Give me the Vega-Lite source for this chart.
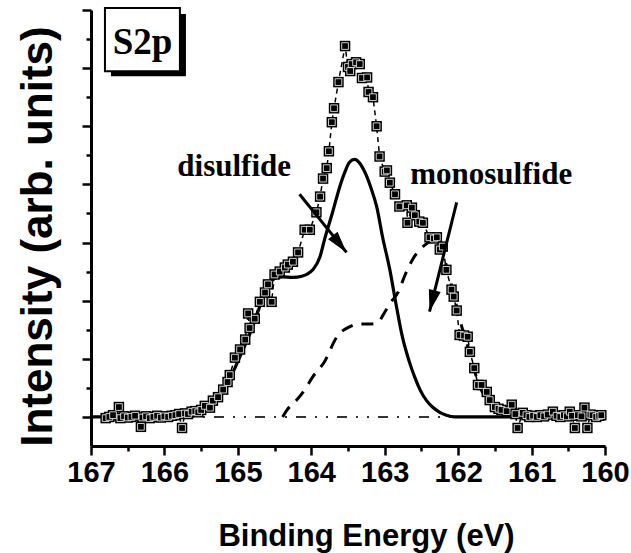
{
  "$schema": "https://vega.github.io/schema/vega-lite/v6.json",
  "width": 514,
  "height": 436,
  "autosize": {"type": "none"},
  "padding": {"left": 91, "top": 10, "right": 26, "bottom": 107},
  "background": "white",
  "config": {"view": {"stroke": null}, "axis": {"grid": false, "labelFontWeight": 700, "labelFont": "Liberation Sans"}},
  "datasets": {
    "points": [
      {"E":166.80,"I":-0.02},{"E":166.75,"I":0.00},{"E":166.70,"I":0.03},{"E":166.62,"I":0.17},{"E":166.60,"I":-0.02},
      {"E":166.55,"I":0.01},{"E":166.50,"I":-0.01},{"E":166.45,"I":0.00},{"E":166.40,"I":0.02},{"E":166.32,"I":-0.17},
      {"E":166.30,"I":-0.01},{"E":166.25,"I":0.01},{"E":166.20,"I":-0.02},{"E":166.15,"I":0.00},{"E":166.10,"I":0.02},
      {"E":166.05,"I":-0.01},{"E":166.00,"I":0.01},{"E":165.95,"I":0.00},{"E":165.90,"I":0.02},{"E":165.85,"I":0.03},
      {"E":165.80,"I":0.05},{"E":165.76,"I":-0.19},{"E":165.72,"I":0.06},{"E":165.68,"I":0.05},{"E":165.63,"I":0.09},
      {"E":165.58,"I":0.10},{"E":165.54,"I":0.08},{"E":165.50,"I":0.12},{"E":165.45,"I":0.19},{"E":165.38,"I":0.16},
      {"E":165.34,"I":0.28},{"E":165.27,"I":0.34},{"E":165.20,"I":0.47},{"E":165.14,"I":0.60},{"E":165.11,"I":0.72},
      {"E":165.04,"I":1.02},{"E":164.97,"I":1.16},{"E":164.90,"I":1.33},{"E":164.86,"I":1.78},{"E":164.84,"I":1.53},
      {"E":164.77,"I":1.69},{"E":164.70,"I":1.98},{"E":164.63,"I":2.14},{"E":164.59,"I":2.28},{"E":164.54,"I":1.98},
      {"E":164.50,"I":2.45},{"E":164.43,"I":2.50},{"E":164.36,"I":2.57},{"E":164.32,"I":2.62},{"E":164.25,"I":2.67},
      {"E":164.18,"I":2.83},{"E":164.09,"I":3.22},{"E":164.02,"I":3.22},{"E":163.93,"I":3.52},{"E":163.88,"I":3.79},
      {"E":163.84,"I":4.10},{"E":163.79,"I":4.28},{"E":163.76,"I":4.57},{"E":163.72,"I":5.07},{"E":163.69,"I":5.31},
      {"E":163.63,"I":5.76},{"E":163.54,"I":6.38},{"E":163.50,"I":6.02},{"E":163.47,"I":5.95},{"E":163.45,"I":6.07},
      {"E":163.39,"I":6.10},{"E":163.34,"I":6.07},{"E":163.31,"I":5.83},{"E":163.24,"I":5.84},{"E":163.22,"I":5.59},
      {"E":163.16,"I":5.50},{"E":163.11,"I":5.00},{"E":163.07,"I":4.48},{"E":163.00,"I":4.22},{"E":162.97,"I":4.24},
      {"E":162.93,"I":4.03},{"E":162.86,"I":3.83},{"E":162.80,"I":3.62},{"E":162.70,"I":3.64},{"E":162.69,"I":3.34},
      {"E":162.63,"I":3.60},{"E":162.59,"I":3.47},{"E":162.53,"I":3.36},{"E":162.48,"I":3.34},{"E":162.39,"I":3.09},
      {"E":162.33,"I":3.07},{"E":162.29,"I":3.09},{"E":162.25,"I":2.88},{"E":162.21,"I":2.93},{"E":162.16,"I":2.53},
      {"E":162.09,"I":2.19},{"E":162.06,"I":2.07},{"E":162.02,"I":1.83},{"E":161.98,"I":1.41},{"E":161.92,"I":1.40},
      {"E":161.87,"I":1.38},{"E":161.84,"I":1.12},{"E":161.78,"I":0.84},{"E":161.73,"I":0.55},{"E":161.68,"I":0.55},
      {"E":161.61,"I":0.43},{"E":161.57,"I":0.29},{"E":161.50,"I":0.17},{"E":161.45,"I":0.14},{"E":161.41,"I":0.12},
      {"E":161.34,"I":0.10},{"E":161.27,"I":0.21},{"E":161.22,"I":0.05},{"E":161.19,"I":-0.19},{"E":161.12,"I":0.07},
      {"E":161.07,"I":0.03},{"E":161.03,"I":0.00},{"E":160.98,"I":0.02},{"E":160.93,"I":0.00},{"E":160.88,"I":0.03},
      {"E":160.83,"I":0.01},{"E":160.78,"I":0.04},{"E":160.71,"I":0.09},{"E":160.66,"I":0.02},{"E":160.61,"I":0.00},
      {"E":160.56,"I":0.03},{"E":160.52,"I":0.01},{"E":160.48,"I":0.09},{"E":160.45,"I":0.02},{"E":160.41,"I":-0.19},
      {"E":160.37,"I":0.03},{"E":160.32,"I":0.01},{"E":160.28,"I":0.16},{"E":160.24,"I":-0.19},{"E":160.20,"I":0.04},
      {"E":160.17,"I":0.03},{"E":160.12,"I":0.00},{"E":160.08,"I":0.02},{"E":160.05,"I":0.03}
    ],
    "disulfide": [
      {"E":167.0,"I":0},{"E":166.2,"I":0},{"E":165.93,"I":0.01},{"E":165.65,"I":0.08},{"E":165.42,"I":0.2},
      {"E":165.24,"I":0.41},{"E":165.07,"I":0.76},{"E":164.95,"I":1.1},{"E":164.88,"I":1.3},{"E":164.80,"I":1.55},
      {"E":164.73,"I":1.8},{"E":164.63,"I":2.15},{"E":164.55,"I":2.33},{"E":164.46,"I":2.40},{"E":164.39,"I":2.41},
      {"E":164.25,"I":2.40},{"E":164.13,"I":2.42},{"E":164.05,"I":2.46},{"E":163.98,"I":2.53},{"E":163.88,"I":2.76},
      {"E":163.82,"I":3.05},{"E":163.71,"I":3.52},{"E":163.61,"I":3.97},{"E":163.54,"I":4.22},{"E":163.48,"I":4.38},
      {"E":163.41,"I":4.43},{"E":163.35,"I":4.38},{"E":163.27,"I":4.21},{"E":163.19,"I":3.95},{"E":163.11,"I":3.62},
      {"E":163.03,"I":3.10},{"E":162.93,"I":2.53},{"E":162.84,"I":1.9},{"E":162.76,"I":1.38},{"E":162.66,"I":0.93},
      {"E":162.59,"I":0.68},{"E":162.52,"I":0.47},{"E":162.43,"I":0.28},{"E":162.35,"I":0.17},{"E":162.25,"I":0.08},
      {"E":162.16,"I":0.03},{"E":162.05,"I":0},{"E":160.0,"I":0}
    ],
    "mono": [
      {"E":164.39,"I":0},{"E":164.33,"I":0.12},{"E":164.20,"I":0.29},{"E":164.10,"I":0.45},{"E":163.98,"I":0.69},
      {"E":163.82,"I":0.95},{"E":163.65,"I":1.38},{"E":163.48,"I":1.55},{"E":163.35,"I":1.6},{"E":163.20,"I":1.6},
      {"E":163.10,"I":1.62},{"E":163.00,"I":1.8},{"E":162.93,"I":1.95},{"E":162.82,"I":2.14},{"E":162.72,"I":2.45},
      {"E":162.62,"I":2.71},{"E":162.46,"I":2.95},{"E":162.29,"I":3.05},{"E":162.16,"I":2.6},{"E":162.05,"I":2.05},
      {"E":161.95,"I":1.55},{"E":161.84,"I":1.1},{"E":161.73,"I":0.6},{"E":161.57,"I":0.25},{"E":161.37,"I":0.08},
      {"E":161.16,"I":0}
    ],
    "baseline": [{"E":167.0,"I":0},{"E":160.0,"I":0}],
    "arrows": [
      {"id":"d","E":163.52,"I":2.83,"E2":164.16,"I2":3.83},
      {"id":"m","E":162.39,"I":1.81,"E2":162.02,"I2":3.69}
    ],
    "labels": [
      {"E":165.05,"I":4.14,"label":"disulfide"},
      {"E":161.55,"I":4.0,"label":"monosulfide"}
    ],
    "shadow": [{"E":166.728,"E2":165.707,"I":6.931,"I2":5.862}],
    "box": [{"E":166.81,"E2":165.789,"I":7.034,"I2":5.948}],
    "boxlabel": [{"E":166.299,"I":6.241,"label":"S2p"}]
  },
  "encoding": {
    "x": {
      "field": "E", "type": "quantitative",
      "scale": {"domain": [160, 167], "reverse": true, "nice": false, "zero": false},
      "axis": {
        "title": "Binding Energy (eV)",
        "values": [160,160.5,161,161.5,162,162.5,163,163.5,164,164.5,165,165.5,166,166.5,167],
        "labelExpr": "datum.value % 1 === 0 ? format(datum.value, 'd') : ''",
        "labelOverlap": false, "labelFlush": false,
        "domainWidth": 3, "domainColor": "black",
        "tickWidth": 2.5, "tickColor": "black",
        "tickSize": {"condition": {"test": "datum.value % 1 === 0", "value": 9}, "value": 5},
        "labelFont": "Liberation Sans", "labelFontWeight": 700, "labelFontSize": 29,
        "labelColor": "black", "labelPadding": 3,
        "titleFont": "Liberation Sans", "titleFontSize": 31, "titleFontWeight": "bold",
        "titleColor": "black", "titleBaseline": "alphabetic", "titleX": 275, "titleY": 99
      }
    },
    "y": {
      "field": "I", "type": "quantitative",
      "scale": {"domain": [-0.5, 7.0], "nice": false, "zero": false},
      "axis": {
        "title": "Intensity (arb. units)",
        "values": [0,0.5,1,1.5,2,2.5,3,3.5,4,4.5,5,5.5,6,6.5,7],
        "labels": false,
        "domainWidth": 3, "domainColor": "black",
        "tickWidth": 2.5, "tickColor": "black",
        "tickSize": {"condition": {"test": "datum.value % 1 === 0", "value": 9}, "value": 5},
        "titleFont": "Liberation Sans", "titleFontSize": 44, "titleFontWeight": "bold",
        "titleColor": "black", "titleBaseline": "alphabetic", "titleX": -40, "titleY": 226
      }
    }
  },
  "layer": [
    {
      "data": {"name": "baseline"},
      "mark": {"type": "line", "color": "#333", "strokeWidth": 2, "strokeDash": [10, 9, 2, 9, 2, 9]}
    },
    {
      "data": {"name": "points"},
      "mark": {"type": "line", "color": "black", "strokeWidth": 1.5, "strokeDash": [5, 4]}
    },
    {
      "data": {"name": "disulfide"},
      "mark": {"type": "line", "color": "black", "strokeWidth": 3.2, "interpolate": "monotone"}
    },
    {
      "data": {"name": "mono"},
      "mark": {"type": "line", "color": "black", "strokeWidth": 3, "strokeDash": [12, 9], "interpolate": "monotone"}
    },
    {
      "data": {"name": "points"},
      "mark": {"type": "point", "shape": "square", "filled": true, "color": "black", "size": 110, "opacity": 1}
    },
    {
      "data": {"name": "points"},
      "mark": {"type": "point", "shape": "square", "filled": true, "fill": "black", "stroke": "white", "strokeWidth": 0.8, "size": 45, "opacity": 1}
    },
    {
      "data": {"name": "arrows"},
      "mark": {"type": "rule", "color": "black", "strokeWidth": 3},
      "encoding": {
        "x2": {"field": "E2"},
        "y2": {"field": "I2"}
      }
    },
    {
      "data": {"name": "arrows"},
      "transform": [{"filter": "datum.id == 'd'"}],
      "mark": {"type": "point", "shape": "M0,0L-0.28,-1L0.28,-1Z", "filled": true, "color": "black", "size": 1900, "angle": -39, "opacity": 1}
    },
    {
      "data": {"name": "arrows"},
      "transform": [{"filter": "datum.id == 'm'"}],
      "mark": {"type": "point", "shape": "M0,0L-0.28,-1L0.28,-1Z", "filled": true, "color": "black", "size": 1900, "angle": 14, "opacity": 1}
    },
    {
      "data": {"name": "labels"},
      "mark": {"type": "text", "font": "Liberation Serif", "fontWeight": "bold", "fontSize": 31, "align": "center", "baseline": "alphabetic", "color": "black"},
      "encoding": {"text": {"field": "label"}}
    },
    {
      "data": {"name": "shadow"},
      "mark": {"type": "rect", "color": "black"},
      "encoding": {"x2": {"field": "E2"}, "y2": {"field": "I2"}}
    },
    {
      "data": {"name": "box"},
      "mark": {"type": "rect", "fill": "white", "stroke": "black", "strokeWidth": 2},
      "encoding": {"x2": {"field": "E2"}, "y2": {"field": "I2"}}
    },
    {
      "data": {"name": "boxlabel"},
      "mark": {"type": "text", "font": "Liberation Serif", "fontWeight": "bold", "fontSize": 37, "align": "center", "baseline": "alphabetic", "color": "black"},
      "encoding": {"text": {"field": "label"}}
    }
  ]
}
